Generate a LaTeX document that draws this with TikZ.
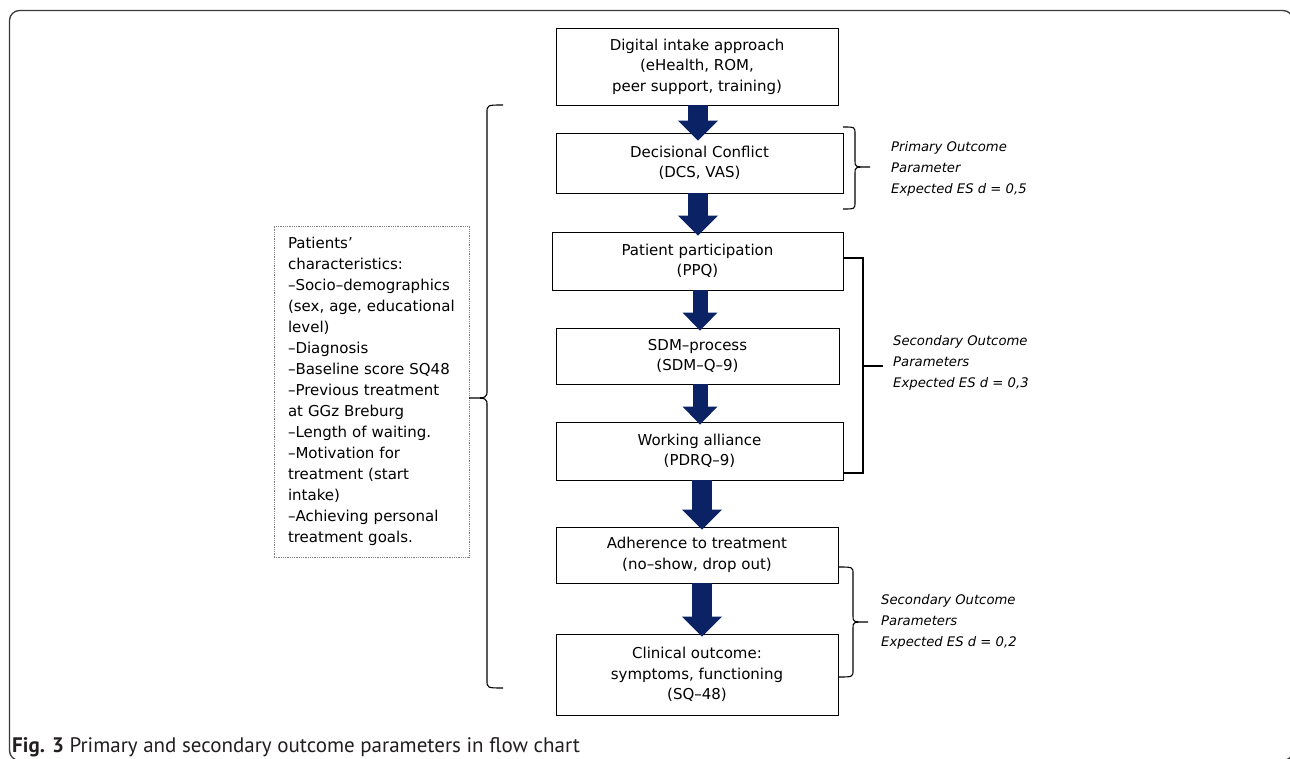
\documentclass[tikz,border=0pt]{standalone}
\usepackage{fontspec}
\setmainfont{DejaVu Sans}
\newfontfamily\capfont{PT Sans}
\usetikzlibrary{arrows.meta,calc}
\definecolor{navy}{HTML}{0B2264}
\definecolor{framegray}{HTML}{3A3A3A}
\definecolor{captext}{HTML}{231F20}
\begin{document}
\begin{tikzpicture}[x=1pt,y=-1pt,
  box/.style={draw=black, line width=0.9pt, fill=white, align=center, inner sep=0pt,
    font=\fontsize{15}{20.5}\selectfont},
  pbox/.style={draw=gray, densely dotted, line width=0.8pt, align=left, inner xsep=0pt, inner ysep=0pt,
    font=\fontsize{15}{21}\selectfont},
  bigarrow/.style={draw=navy, line width=20pt, -{Triangle[width=40pt,length=20pt,line width=0pt]}},
  smallarrow/.style={draw=navy, line width=15pt, -{Triangle[width=35pt,length=18pt,line width=0pt]}},
  bracket/.style={draw=black, line width=1.1pt},
  label/.style={align=left, anchor=west, inner sep=0pt, font=\fontsize{13.2}{21}\selectfont\itshape},
]
\clip (0,0) rectangle (1290,759);
\fill[white] (0,0) rectangle (1290,759);
% outer frame
\draw[framegray, line width=1.3pt, rounded corners=10pt] (9.5,10.5) rectangle (1293,760.5);

% boxes
\node[box, minimum width=282, minimum height=77] (b1) at (697,66.5) {Digital intake approach\\(eHealth, ROM,\\peer support, training)};
\node[box, minimum width=287, minimum height=60] (b2) at (699.5,163) {Decisional Conflict\\(DCS, VAS)};
\node[box, minimum width=291, minimum height=58] (b3) at (697.5,261) {Patient participation\\(PPQ)};
\node[box, minimum width=283, minimum height=56] (b4) at (697.5,356) {SDM–process\\(SDM–Q–9)};
\node[box, minimum width=287, minimum height=58] (b5) at (699.5,451) {Working alliance\\(PDRQ–9)};
\node[box, minimum width=282, minimum height=56] (b6) at (697,555) {Adherence to treatment\\(no–show, drop out)};
\node[box, minimum width=282, minimum height=81] (b7) at (697,674.5) {Clinical outcome:\\symptoms, functioning\\(SQ–48)};

% patients characteristics
\node[pbox, minimum width=195, minimum height=331, text width=179] (pc) at (371.5,391.5)
 {\hspace*{6pt}\begin{minipage}{173pt}\raggedright
 Patients’\\characteristics:\\–Socio–demographics\\(sex, age, educational\\level)\\–Diagnosis\\–Baseline score SQ48\\–Previous treatment\\at GGz Breburg\\–Length of waiting.\\–Motivation for\\treatment (start\\intake)\\–Achieving personal\\treatment goals.\end{minipage}};

% arrows
\coordinate (xa) at (698,0);
\coordinate (xb) at (700,0);
\coordinate (xc) at (702,0);
\draw[bigarrow] (b1.south -| xa) -- ($(b2.north -| xa)+(0,8)$);
\draw[bigarrow] (b2.south -| xa) -- ($(b3.north -| xa)+(0,4)$);
\draw[smallarrow] (b3.south -| xb) -- ($(b4.north -| xb)+(0,3)$);
\draw[smallarrow] (b4.south -| xb) -- ($(b5.north -| xb)+(0,3)$);
\draw[bigarrow] (b5.south -| xc) -- ($(b6.north -| xc)+(0,3)$);
\draw[bigarrow] (b6.south -| xc) -- ($(b7.north -| xc)+(0,3)$);

% left brace
\coordinate (lt) at (469,398);
\draw[bracket] (503,105) .. controls (487,105) .. (487,113) -- (487,390)
  .. controls (487,398) .. (lt) .. controls (487,398) .. (487,406) -- (487,680)
  .. controls (487,688) .. (503,688);

% primary brace
\coordinate (pt) at (870,167);
\draw[bracket] (843,127) .. controls (855,127) .. (855,134) -- (855,161)
  .. controls (855,167) .. (pt) .. controls (855,167) .. (855,173) -- (855,202)
  .. controls (855,209) .. (843,209);
\node[label] (l1) at (891,169) {Primary Outcome\\Parameter\\Expected ES d = 0,5};

% secondary square bracket
\coordinate (st) at (883,366);
\draw[bracket] (b3.east |- 0,258) -- (863,258) -- (863,473) -- (b5.east |- 0,473);
\draw[bracket] (863,366) -- (st);
\node[label] (l2) at (893,363) {Secondary Outcome\\Parameters\\Expected ES d = 0,3};

% secondary brace 2
\coordinate (qt) at (868,622);
\draw[bracket] (838,567) .. controls (853,567) .. (853,574) -- (853,616)
  .. controls (853,622) .. (qt) .. controls (853,622) .. (853,628) -- (853,670)
  .. controls (853,677) .. (838,677);
\node[label] (l3) at (881,622) {Secondary Outcome\\Parameters\\Expected ES d = 0,2};

% caption
\node[anchor=base west, inner sep=0pt, text=captext, font=\capfont\fontsize{21}{24}\selectfont] (cap) at (12,752)
  {\textbf{Fig. 3} Primary and secondary outcome parameters in flow chart};
\end{tikzpicture}
\end{document}
